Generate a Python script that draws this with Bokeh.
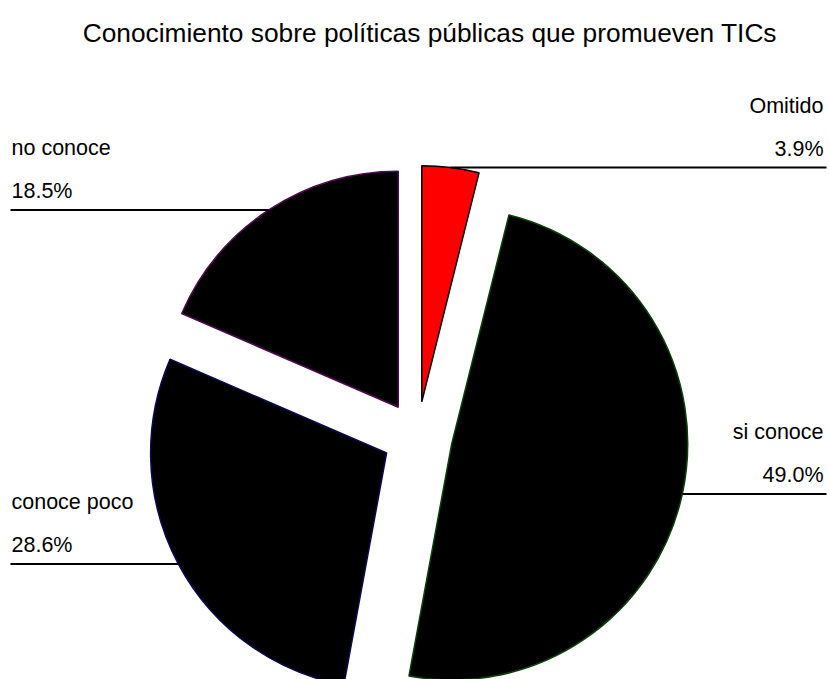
import math
from bokeh.plotting import figure
from bokeh.models import Range1d, ColumnDataSource
from bokeh.core.properties import value
from bokeh.embed import file_html
from bokeh.resources import INLINE

title_text = "Conocimiento sobre políticas públicas  que promueven TICs"
categories = ["Omitido", "si conoce", "conoce poco", "no conoce"]
percentages = [3.9, 49.0, 28.6, 18.5]
fill_colors = ["#FF0000", "#000000", "#000000", "#000000"]
edge_colors = ["#000000", "#0A400A", "#0A0A50", "#500A50"]
label_sides = ["right", "right", "left", "left"]

W, H = 829, 679
FONT = "Liberation Sans"

p = figure(width=W, height=H, x_range=Range1d(0, W), y_range=Range1d(0, H),
           output_backend="svg", toolbar_location=None, min_border=0)
p.axis.visible = False
p.grid.visible = False
p.outline_line_color = None
p.background_fill_color = "white"
p.border_fill_color = "white"

cx, cy = 417, H - 436
R = 236
EXPLODE = 35

total = sum(percentages)
acc = 0.0
wx, wy, sa, ea = [], [], [], []
lx0, lx1, ly = [], [], []
for pct, side in zip(percentages, label_sides):
    t1 = acc / total * 360.0
    t2 = (acc + pct) / total * 360.0
    acc += pct
    mid = math.radians((t1 + t2) / 2)
    ax = cx + EXPLODE * math.sin(mid)
    ay = cy + EXPLODE * math.cos(mid)
    wx.append(ax); wy.append(ay)
    sa.append(math.radians(90 - t1)); ea.append(math.radians(90 - t2))
    mx = ax + R * math.sin(mid)
    my = ay + R * math.cos(mid)
    lx0.append(mx)
    lx1.append(826 if side == "right" else 10)
    ly.append(my)

src = ColumnDataSource(dict(x=wx, y=wy, sa=sa, ea=ea, fill=fill_colors, edge=edge_colors))
p.wedge(x="x", y="y", radius=R, start_angle="sa", end_angle="ea", direction="clock",
        fill_color="fill", line_color="edge", line_width=1.5, source=src)

p.segment(x0=lx0, y0=ly, x1=lx1, y1=ly, line_color="black", line_width=2)

tx = [823 if s == "right" else 11 for s in label_sides]
align = label_sides
pct_labels = [f"{v:.1f}%" for v in percentages]
p.text(x=tx, y=[v + 19 for v in ly], text=pct_labels, text_align=align, text_baseline="alphabetic",
       text_font=value(FONT), text_font_size="21.5px", text_color="black")
p.text(x=tx, y=[v + 62 for v in ly], text=categories, text_align=align, text_baseline="alphabetic",
       text_font=value(FONT), text_font_size="21.5px", text_color="black")

p.text(x=[433], y=[H - 32], text=[title_text], text_align="center", text_baseline="alphabetic",
       text_font=value(FONT), text_font_size="26.3px", text_color="black")

open("out.html", "w").write(file_html(p, INLINE))
